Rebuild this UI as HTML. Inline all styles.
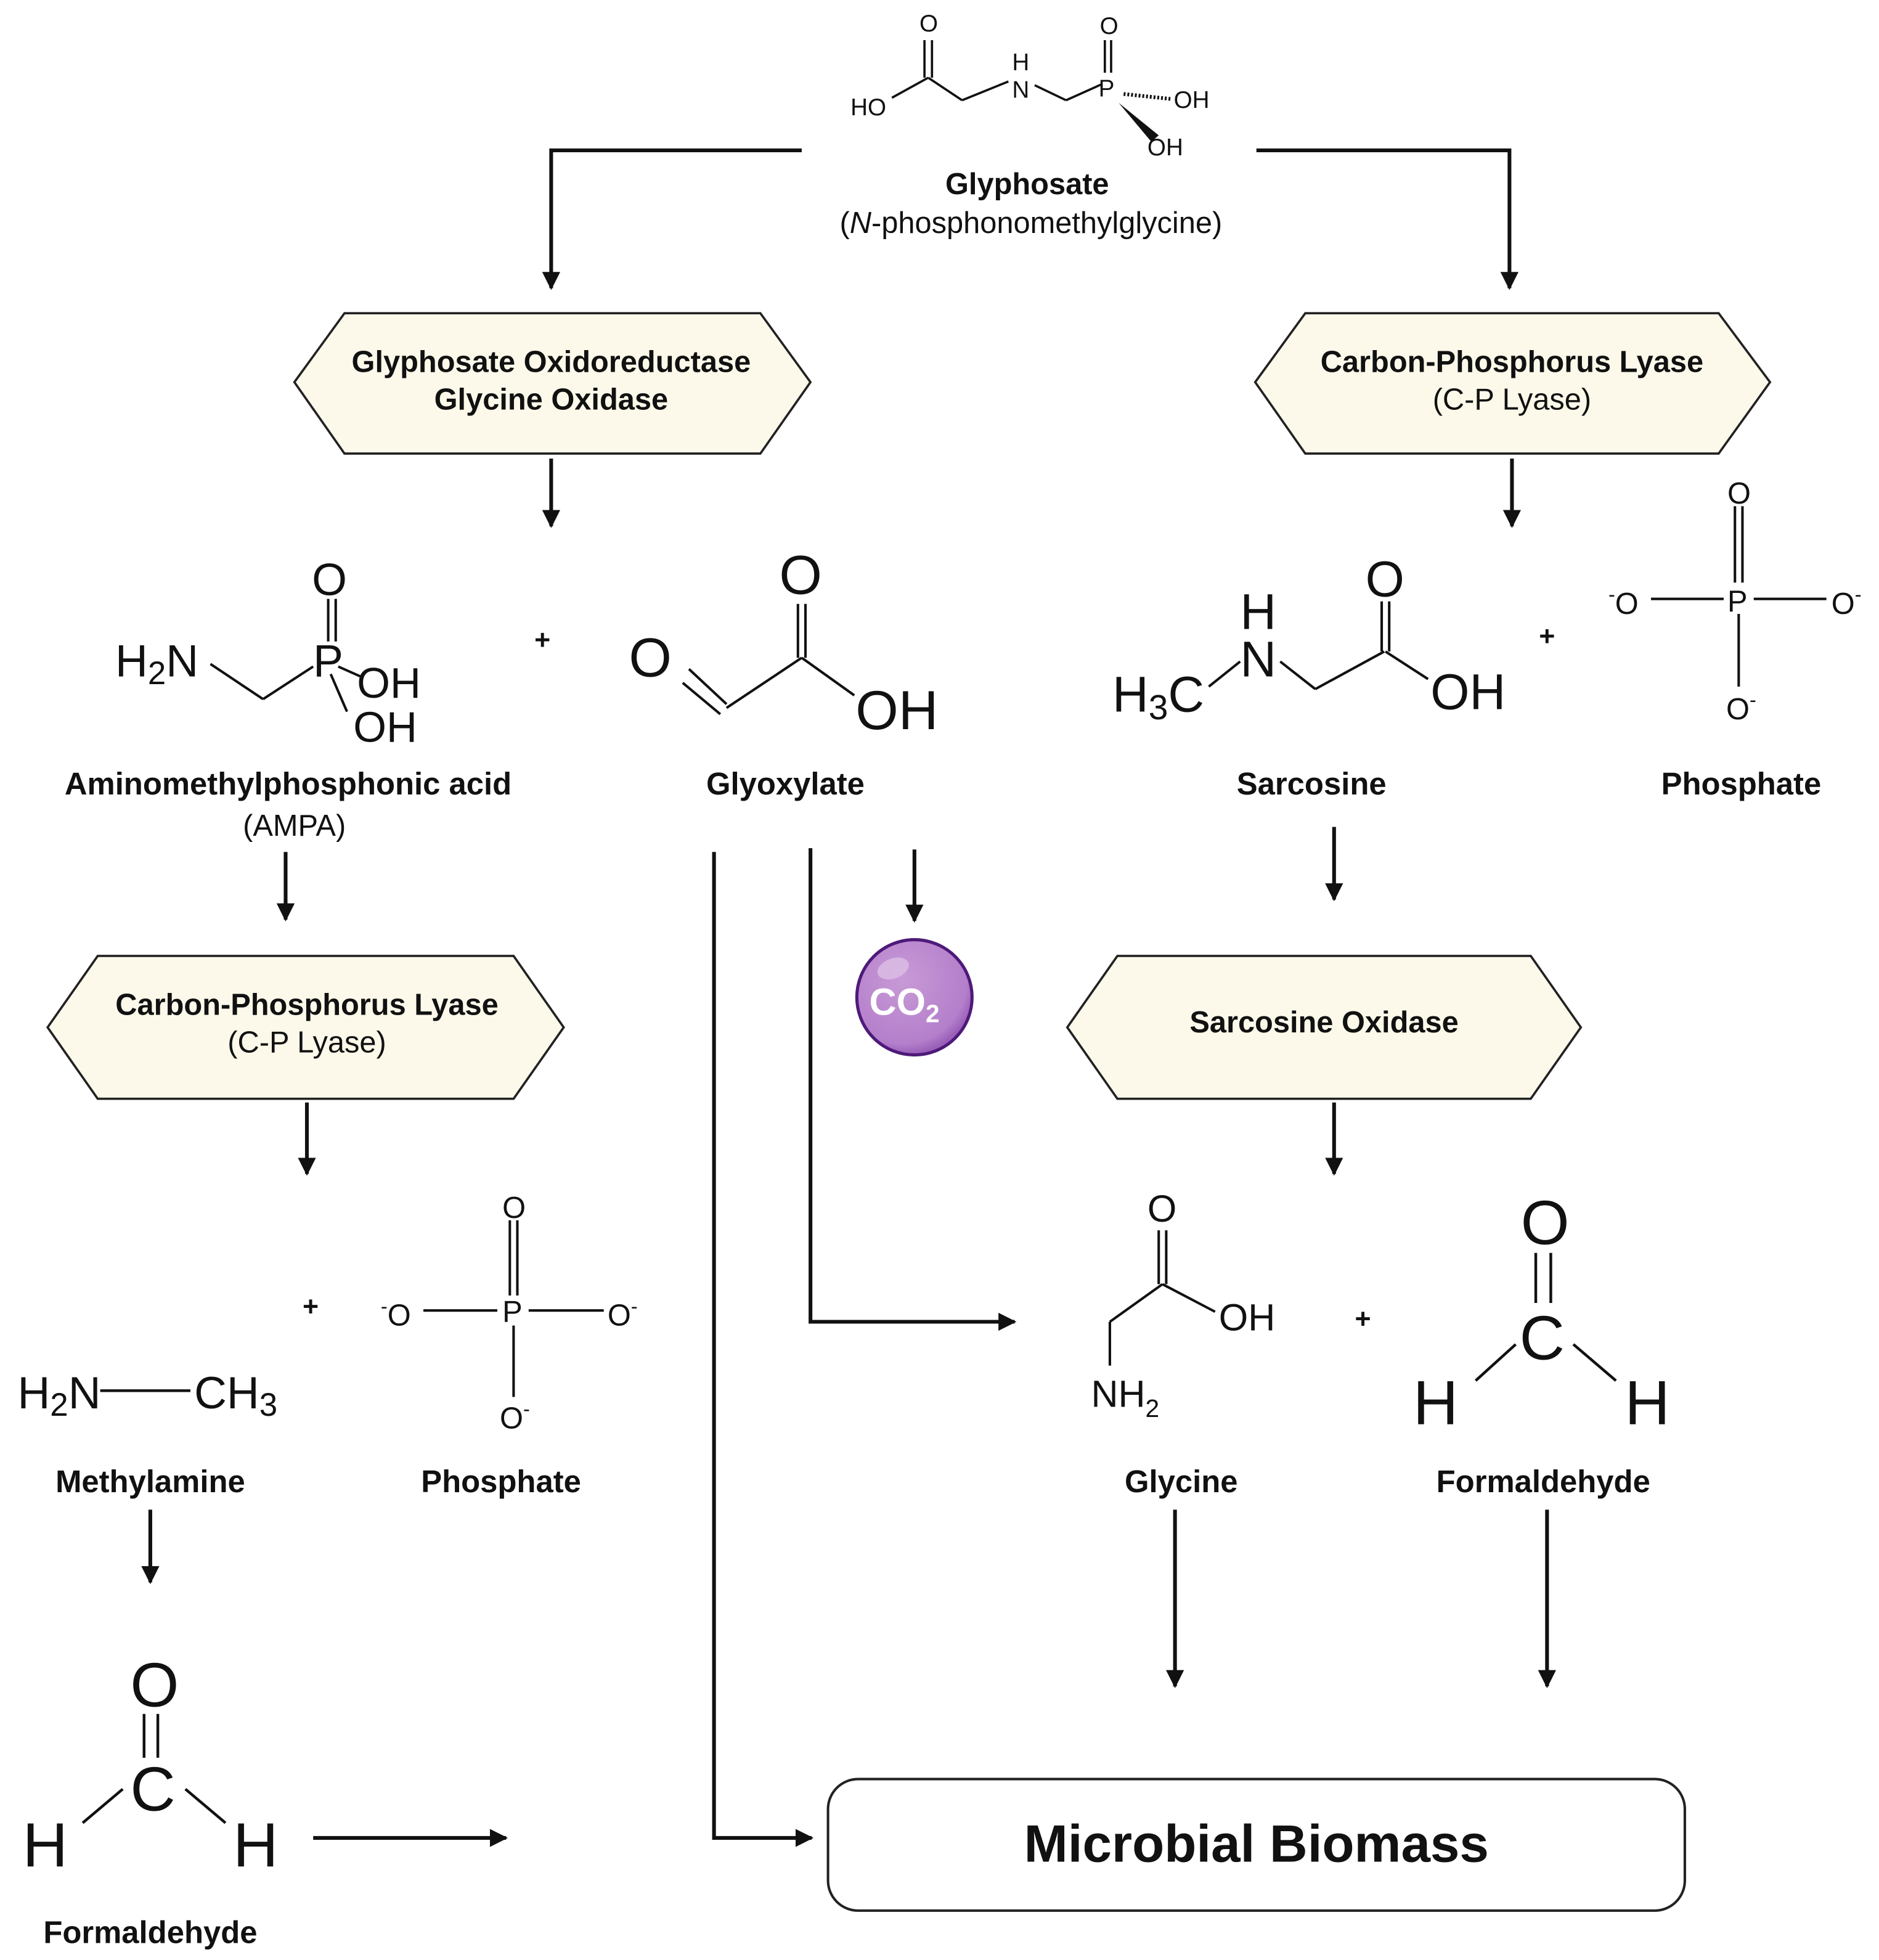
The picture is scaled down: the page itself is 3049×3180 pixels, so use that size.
<!DOCTYPE html>
<html><head><meta charset="utf-8"><style>
html,body{margin:0;padding:0;background:#fff;}
svg{display:block;}
text{font-family:"Liberation Sans",sans-serif;fill:#111;}
.b{font-weight:bold;}
</style></head><body>
<svg width="3049" height="3180" viewBox="0 0 1500 1564.4" xmlns="http://www.w3.org/2000/svg">
<defs>
<marker id="ah" viewBox="0 0 10 10" refX="9" refY="5" markerWidth="4.8" markerHeight="4.8" orient="auto"><path d="M0,0 L10,5 L0,10 z" fill="#111"/></marker>
<radialGradient id="co" cx="40%" cy="35%" r="65%"><stop offset="0" stop-color="#c89ad6"/><stop offset="0.85" stop-color="#b47fcb"/><stop offset="1" stop-color="#9a5fb8"/></radialGradient>
</defs>
<g stroke="#111" stroke-width="3" fill="none">
<polyline points="640,120 440,120 440,230" marker-end="url(#ah)"/>
<polyline points="1003,120 1205,120 1205,230" marker-end="url(#ah)"/>
<line x1="440" y1="366" x2="440" y2="420" marker-end="url(#ah)"/>
<line x1="1207" y1="366" x2="1207" y2="420" marker-end="url(#ah)"/>
<line x1="228" y1="680" x2="228" y2="734" marker-end="url(#ah)"/>
<line x1="1065" y1="660" x2="1065" y2="718" marker-end="url(#ah)"/>
<line x1="730" y1="678" x2="730" y2="735" marker-end="url(#ah)"/>
<polyline points="570,680 570,1467 648,1467" marker-end="url(#ah)"/>
<polyline points="647,677 647,1055 810,1055" marker-end="url(#ah)"/>
<line x1="245" y1="880" x2="245" y2="937" marker-end="url(#ah)"/>
<line x1="1065" y1="880" x2="1065" y2="937" marker-end="url(#ah)"/>
<line x1="120" y1="1205" x2="120" y2="1263" marker-end="url(#ah)"/>
<line x1="250" y1="1467" x2="404" y2="1467" marker-end="url(#ah)"/>
<line x1="938" y1="1205" x2="938" y2="1346" marker-end="url(#ah)"/>
<line x1="1235" y1="1205" x2="1235" y2="1346" marker-end="url(#ah)"/>
</g>
<g fill="#fcf9ea" stroke="#222" stroke-width="1.8">
<polygon points="235,305 275,250 607,250 647,305 607,362 275,362"/>
<polygon points="1002,305 1042,250 1372,250 1413,305 1372,362 1042,362"/>
<polygon points="38,820 78,763 410,763 450,820 410,877 78,877"/>
<polygon points="852,820 892,763 1222,763 1262,820 1222,877 892,877"/>
</g>
<g text-anchor="middle" font-size="24">
<text x="440" y="297" class="b">Glyphosate Oxidoreductase</text>
<text x="440" y="327" class="b">Glycine Oxidase</text>
<text x="1207" y="297" class="b">Carbon-Phosphorus Lyase</text>
<text x="1207" y="327">(C-P Lyase)</text>
<text x="245" y="810" class="b">Carbon-Phosphorus Lyase</text>
<text x="245" y="840">(C-P Lyase)</text>
<text x="1057" y="824" class="b">Sarcosine Oxidase</text>
<text x="820" y="155" class="b">Glyphosate</text>
<text x="823" y="186">(<tspan font-style="italic">N</tspan>-phosphonomethylglycine)</text>
<text x="230" y="634" class="b" font-size="25">Aminomethylphosphonic acid</text>
<text x="235" y="667">(AMPA)</text>
<text x="627" y="634" class="b" font-size="25">Glyoxylate</text>
<text x="1047" y="634" class="b" font-size="25">Sarcosine</text>
<text x="1390" y="634" class="b" font-size="25">Phosphate</text>
<text x="120" y="1191" class="b" font-size="25">Methylamine</text>
<text x="400" y="1191" class="b" font-size="25">Phosphate</text>
<text x="943" y="1191" class="b" font-size="25">Glycine</text>
<text x="1232" y="1191" class="b" font-size="25">Formaldehyde</text>
<text x="120" y="1551" class="b" font-size="25">Formaldehyde</text>
</g>
<rect x="661" y="1420" width="684" height="105" rx="24" fill="#fff" stroke="#222" stroke-width="2"/>
<text x="1003" y="1486" text-anchor="middle" font-size="42" class="b">Microbial Biomass</text>
<circle cx="730" cy="796" r="46" fill="url(#co)" stroke="#4e1a7a" stroke-width="2.5"/>
<ellipse cx="713" cy="773" rx="13" ry="8" fill="#dcbfe6" opacity="0.8" transform="rotate(-20 713 773)"/>
<text x="722" y="810" text-anchor="middle" font-size="30" class="b" style="fill:#fff">CO<tspan font-size="20" dy="6">2</tspan></text>
<g stroke="#111" stroke-width="1.8" fill="none">
<line x1="712" y1="78" x2="741" y2="62"/>
<line x1="738" y1="62" x2="738" y2="32"/><line x1="744" y1="62" x2="744" y2="32"/>
<line x1="741" y1="62" x2="768" y2="80"/>
<line x1="768" y1="80" x2="805" y2="65"/>
<line x1="826" y1="68" x2="851" y2="80"/>
<line x1="851" y1="80" x2="880" y2="67"/>
<line x1="882" y1="58" x2="882" y2="32"/><line x1="887" y1="58" x2="887" y2="32"/>
<line x1="897" y1="75" x2="935" y2="79" stroke-dasharray="1.5,1.5" stroke-width="3"/>
</g>
<polygon points="893,82 925,108 919,113" fill="#111"/>
<g font-size="19">
<text x="679" y="92">HO</text><text x="734" y="25">O</text>
<text x="808" y="78">N</text><text x="808" y="56">H</text>
<text x="877" y="77">P</text><text x="878" y="27">O</text>
<text x="937" y="86">OH</text><text x="916" y="124">OH</text>
</g>
<g stroke="#111" stroke-width="2" fill="none">
<line x1="168" y1="530" x2="210" y2="558"/><line x1="210" y1="558" x2="250" y2="532"/>
<line x1="262" y1="478" x2="262" y2="512"/><line x1="268" y1="478" x2="268" y2="512"/>
<line x1="270" y1="532" x2="288" y2="540"/><line x1="264" y1="538" x2="277" y2="568"/>
</g>
<g font-size="36">
<text x="92" y="540">H<tspan font-size="26" dy="6">2</tspan><tspan dy="-6">N</tspan></text>
<text x="250" y="540">P</text><text x="249" y="475">O</text>
<text x="285" y="557" font-size="34">OH</text><text x="282" y="592" font-size="34">OH</text>
</g>
<text x="433" y="518" text-anchor="middle" font-size="22" class="b">+</text>
<g stroke="#111" stroke-width="2" fill="none">
<line x1="550" y1="534" x2="580" y2="562"/><line x1="545" y1="545" x2="575" y2="570"/>
<line x1="580" y1="565" x2="640" y2="525"/>
<line x1="637" y1="482" x2="637" y2="525"/><line x1="643" y1="482" x2="643" y2="525"/>
<line x1="640" y1="525" x2="682" y2="555"/>
</g>
<g font-size="44">
<text x="502" y="540">O</text><text x="622" y="474">O</text><text x="683" y="582">OH</text>
</g>
<g stroke="#111" stroke-width="2" fill="none">
<line x1="965" y1="548" x2="990" y2="528"/>
<line x1="1022" y1="528" x2="1050" y2="550"/>
<line x1="1050" y1="550" x2="1105" y2="520"/>
<line x1="1103" y1="480" x2="1103" y2="520"/><line x1="1109" y1="480" x2="1109" y2="520"/>
<line x1="1106" y1="520" x2="1140" y2="542"/>
</g>
<g font-size="40">
<text x="888" y="568">H<tspan font-size="28" dy="6">3</tspan><tspan dy="-6">C</tspan></text>
<text x="990" y="540">N</text><text x="990" y="502">H</text>
<text x="1090" y="476">O</text><text x="1142" y="566">OH</text>
</g>
<text x="1235" y="515" text-anchor="middle" font-size="22" class="b">+</text>
<g stroke="#111" stroke-width="2" fill="none">
<line x1="1385" y1="404" x2="1385" y2="465"/><line x1="1391" y1="404" x2="1391" y2="465"/>
<line x1="1318" y1="478" x2="1376" y2="478"/><line x1="1400" y1="478" x2="1458" y2="478"/>
<line x1="1388" y1="490" x2="1388" y2="548"/>
</g>
<g font-size="24">
<text x="1379" y="402">O</text><text x="1379" y="488">P</text>
<text x="1284" y="490"><tspan font-size="16" dy="-10">-</tspan><tspan dy="10">O</tspan></text>
<text x="1462" y="490">O<tspan font-size="16" dy="-10">-</tspan></text>
<text x="1378" y="574">O<tspan font-size="16" dy="-10">-</tspan></text>
</g>
<g stroke="#111" stroke-width="2" fill="none">
<line x1="407" y1="974" x2="407" y2="1034"/><line x1="413" y1="974" x2="413" y2="1034"/>
<line x1="338" y1="1046" x2="397" y2="1046"/><line x1="422" y1="1046" x2="482" y2="1046"/>
<line x1="410" y1="1058" x2="410" y2="1115"/>
</g>
<g font-size="24">
<text x="401" y="972">O</text><text x="401" y="1055">P</text>
<text x="304" y="1058"><tspan font-size="16" dy="-10">-</tspan><tspan dy="10">O</tspan></text>
<text x="485" y="1058">O<tspan font-size="16" dy="-10">-</tspan></text>
<text x="399" y="1140">O<tspan font-size="16" dy="-10">-</tspan></text>
</g>
<text x="248" y="1050" text-anchor="middle" font-size="22" class="b">+</text>
<line x1="80" y1="1110" x2="152" y2="1110" stroke="#111" stroke-width="2.2"/>
<g font-size="36">
<text x="14" y="1124">H<tspan font-size="26" dy="6">2</tspan><tspan dy="-6">N</tspan></text>
<text x="155" y="1124">CH<tspan font-size="26" dy="6">3</tspan></text>
</g>
<g stroke="#111" stroke-width="2.2" fill="none">
<line x1="115" y1="1368" x2="115" y2="1403"/><line x1="126" y1="1368" x2="126" y2="1403"/>
<line x1="98" y1="1428" x2="66" y2="1455"/><line x1="148" y1="1428" x2="180" y2="1455"/>
</g>
<g font-size="50">
<text x="104" y="1362">O</text>
<text x="104" y="1445">C</text>
<text x="18" y="1490">H</text><text x="186" y="1490">H</text>
</g>
<g stroke="#111" stroke-width="2" fill="none">
<line x1="925" y1="982" x2="925" y2="1025"/><line x1="931" y1="982" x2="931" y2="1025"/>
<line x1="928" y1="1025" x2="970" y2="1047"/>
<line x1="928" y1="1025" x2="886" y2="1055"/><line x1="886" y1="1055" x2="886" y2="1090"/>
</g>
<g font-size="30">
<text x="916" y="975">O</text><text x="973" y="1062">OH</text>
<text x="871" y="1123">NH<tspan font-size="20" dy="8">2</tspan></text>
</g>
<text x="1088" y="1060" text-anchor="middle" font-size="22" class="b">+</text>
<g stroke="#111" stroke-width="2.2" fill="none">
<line x1="1226" y1="1000" x2="1226" y2="1040"/><line x1="1238" y1="1000" x2="1238" y2="1040"/>
<line x1="1210" y1="1073" x2="1178" y2="1102"/><line x1="1256" y1="1073" x2="1290" y2="1102"/>
</g>
<g font-size="50">
<text x="1214" y="993">O</text>
<text x="1213" y="1085">C</text>
<text x="1128" y="1137">H</text><text x="1297" y="1137">H</text>
</g>
</svg>
</body></html>
